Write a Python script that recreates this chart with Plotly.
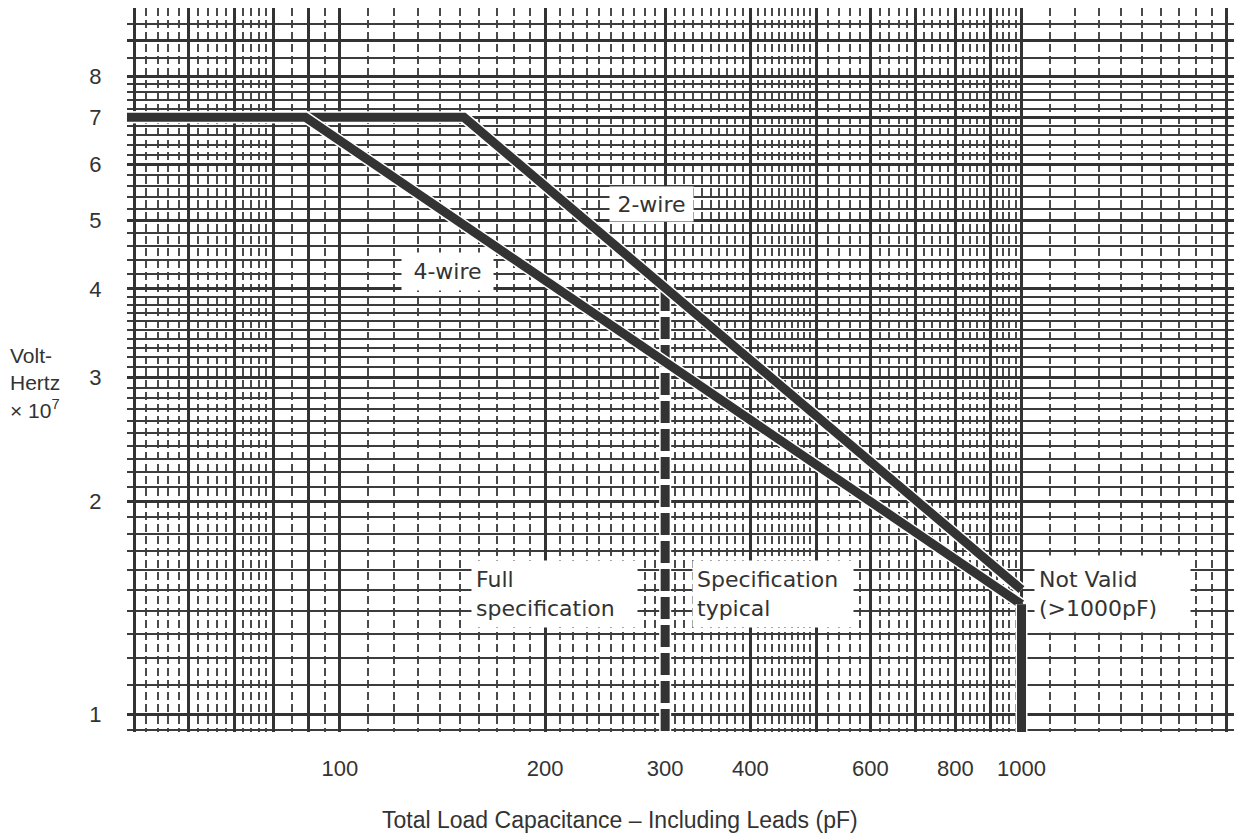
import plotly.graph_objects as go

# Volt-Hertz limit (x 10^7) against total load capacitance (pF)
two_wire_pf = [48, 152, 1000]
two_wire_vhz = [7.0, 7.0, 1.50]

four_wire_pf = [48, 89, 1000]
four_wire_vhz = [7.0, 7.0, 1.43]

# boundary of "specification typical" region and the >1000 pF cut-off
spec_typical_pf = [300, 300]
spec_typical_vhz = [4.0, 0.94]
not_valid_pf = [1000, 1000]
not_valid_vhz = [1.43, 0.94]

x_tick_labels = [100, 200, 300, 400, 600, 800, 1000]
y_tick_labels = [1, 2, 3, 4, 5, 6, 7, 8]

# graph paper rulings
x_heavy = [50, 60, 70, 80, 90, 100, 200, 300, 400, 500, 600, 700, 800, 900, 1000, 2000]
x_light = ([52, 54, 56, 58, 62, 64, 66, 68, 72, 74, 76, 78, 85, 95]
           + [v for v in range(110, 500, 10) if v % 100]
           + [v for v in range(520, 1000, 20) if v % 100]
           + list(range(1100, 2000, 100)))
y_heavy = [1, 2, 3, 4, 5, 6, 7, 8, 9, 10]
y_light = ([0.95]
           + [round(i + k / 10, 1) for i in (1, 2, 3) for k in range(1, 10)]
           + [round(i + k / 5, 1) for i in (4, 5, 6, 7) for k in range(1, 5)]
           + [8.5, 9.5])

INK = "#333333"
FONT = "Liberation Sans"
LABEL_FONT = dict(family="DejaVu Sans", size=22, color=INK)

fig = go.Figure()


def add_line(x, y, dash="solid"):
    # white halo first, so the heavy line sits cleanly on the ruled paper
    fig.add_trace(go.Scatter(x=x, y=y, mode="lines", hoverinfo="skip",
                             line=dict(color="white", width=12)))
    fig.add_trace(go.Scatter(x=x, y=y, mode="lines",
                             line=dict(color=INK, width=9, dash=dash)))


add_line(spec_typical_pf, spec_typical_vhz, dash="22px,6px")
add_line(two_wire_pf, two_wire_vhz)
add_line(four_wire_pf, four_wire_vhz)
add_line(not_valid_pf, not_valid_vhz)

fig.update_xaxes(
    type="log", range=[1.6875, 3.3147],
    tickvals=x_heavy,
    ticktext=[str(v) if v in x_tick_labels else "" for v in x_heavy],
    ticks="outside", ticklen=0, ticklabelstandoff=17,
    showgrid=True, gridcolor=INK, gridwidth=3,
    minor=dict(tickvals=x_light, showgrid=True, gridcolor="#4a4a4a",
               gridwidth=1.5, griddash="8px,4px"),
    showline=False, zeroline=False,
    tickfont=dict(family=FONT, size=22, color=INK),
)
fig.update_yaxes(
    type="log", range=[-0.0255, 1.0],
    tickvals=y_heavy,
    ticktext=[str(v) if v in y_tick_labels else "" for v in y_heavy],
    ticks="outside", ticklen=0, ticklabelstandoff=20,
    showgrid=True, gridcolor=INK, gridwidth=3,
    minor=dict(tickvals=y_light, showgrid=True, gridcolor="#3c3c3c",
               gridwidth=2),
    showline=False, zeroline=False,
    tickfont=dict(family=FONT, size=22, color=INK),
)

# in-chart labels on white patches (log axes: positions given as log10)
fig.add_annotation(x=2.457, y=0.7224, text="2-wire", showarrow=False,
                   width=79, height=30, bgcolor="white", borderpad=2,
                   font=LABEL_FONT)
fig.add_annotation(x=2.1578, y=0.6268, text="4-wire", showarrow=False,
                   width=87, height=33, bgcolor="white", borderpad=2,
                   font=LABEL_FONT)
fig.add_annotation(x=2.3147, y=0.170, text="Full<br>specification", showarrow=False,
                   align="left", width=157, height=58, bgcolor="white", borderpad=4,
                   font=LABEL_FONT)
fig.add_annotation(x=2.6354, y=0.170, text="Specification<br>typical", showarrow=False,
                   align="left", width=152, height=58, bgcolor="white", borderpad=4,
                   font=LABEL_FONT)
fig.add_annotation(x=3.1335, y=0.170, text="Not Valid<br>(>1000pF)", showarrow=False,
                   align="left", width=147, height=68, bgcolor="white", borderpad=4,
                   font=LABEL_FONT)

fig.add_annotation(xref="paper", yref="paper", x=-0.1073, y=0.482,
                   xanchor="left", yanchor="middle", align="left", showarrow=False,
                   text="Volt-<br>Hertz<br>× 10<sup>7</sup>",
                   font=dict(family=FONT, size=21, color=INK))
fig.add_annotation(xref="paper", yref="paper", x=0.4445, y=-0.1215,
                   xanchor="center", yanchor="middle", showarrow=False,
                   text="Total Load Capacitance – Including Leads (pF)",
                   font=dict(family=FONT, size=23, color=INK))

# page body adds an 8px offset, so the figure is sized to fit the window
fig.update_layout(
    width=1234, height=832,
    margin=dict(l=119, r=6, t=0, b=108),
    paper_bgcolor="white", plot_bgcolor="white",
    showlegend=False,
)

fig.write_html("out.html")
